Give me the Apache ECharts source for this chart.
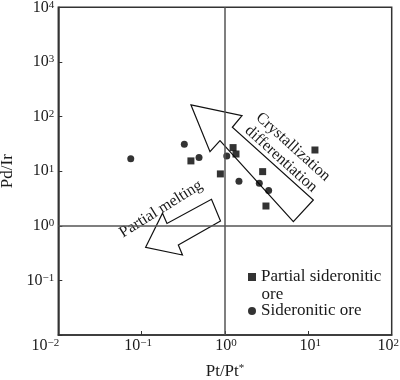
<!DOCTYPE html>
<html>
<head>
<meta charset="utf-8">
<script src="https://cdn.jsdelivr.net/npm/echarts@6/dist/echarts.min.js"></script>
<style>html,body{margin:0;padding:0;background:#fff;}#c{width:400px;height:380px;}</style>
</head>
<body>
<div id="c"></div>
<script>
// ---- data ----
const sideroniticX = [0.074, 0.325, 0.488, 1.05, 1.47, 2.58, 3.34];
const sideroniticY = [16.9, 31, 17.7, 19, 6.5, 6.0, 4.4];
const partialX = [0.39, 0.88, 1.25, 1.355, 2.83, 3.1, 12.0];
const partialY = [15.4, 8.9, 27, 20.6, 9.8, 2.3, 24.4];
const seriesNames = ['Partial sideronitic', 'Sideronitic ore'];
const xName = 'Pt/Pt';
const yName = 'Pd/Ir';
// arrow outlines, as log10(value) pairs
const crystArrow = [[-0.408,2.212],[0.204,2.016],[0.088,1.803],[1.06,0.472],[0.82,0.075],[-0.06,1.558],[-0.18,1.357]];
const meltArrow = [[-0.952,-0.394],[-0.75,0.229],[-0.696,0.042],[-0.162,0.485],[-0.054,0.088],[-0.56,-0.352],[-0.51,-0.535]];
const arrowTexts = ['Crystallization', 'differentiation', 'Partial melting'];
const arrowTextPos = [[0.816,1.443],[0.672,1.223],[-0.768,0.307]];
const arrowTextAngle = [-42, -42, 32];

const FONT = '"Liberation Serif", "Times New Roman", serif';
const TXT = '#1a1a1a';

// horizontal nudges of the x tick labels (left pad / right pad styles)
const xLabelPad = {'-2': ['', 'r26'], '-1': ['', 'r7'], '0': ['l2', ''], '1': ['l4', ''], '2': ['', 'r7']};

function pow10Label(v, isX) {
  const e = Math.round(Math.log10(v));
  const es = (e < 0 ? '\u2212' + (-e) : '' + e);
  if (!isX && e === -2) return '';
  let s = '{b|10}{s|' + es + '}';
  if (isX) {
    const p = xLabelPad[String(e)] || ['', ''];
    if (p[0]) s = '{' + p[0] + '|}' + s;
    if (p[1]) s = s + '{' + p[1] + '|}';
  }
  return s;
}
const richTick = {
  b: {fontSize: 16, fontFamily: FONT, color: TXT},
  s: {fontSize: 11, fontFamily: FONT, color: TXT, verticalAlign: 'top'},
  r26: {width: 26}, r7: {width: 7}, l2: {width: 2}, l4: {width: 4}
};

const chart = echarts.init(document.getElementById('c'));
const arrows = [crystArrow, meltArrow];

chart.setOption({
  animation: false,
  backgroundColor: '#fff',
  grid: {left: 58.3, right: 8.3, top: 7.3, bottom: 45, containLabel: false, outerBoundsMode: 'none',
         show: true, borderColor: '#333', borderWidth: 1.5},
  xAxis: {
    type: 'log', logBase: 10, min: 0.01, max: 100, interval: 1,
    name: '{a|' + xName + '}{s|*}', nameLocation: 'middle', nameGap: 28,
    nameTextStyle: {rich: {a: {fontSize: 17, fontFamily: FONT, color: TXT}, s: {fontSize: 11, fontFamily: FONT, color: TXT, verticalAlign: 'top'}}},
    axisLine: {lineStyle: {color: '#333', width: 1.5}},
    axisTick: {inside: true, length: 4, lineStyle: {color: '#333'}},
    minorTick: {show: false},
    splitLine: {show: false},
    axisLabel: {margin: 3, formatter: v => pow10Label(v, true), rich: richTick}
  },
  yAxis: {
    type: 'log', logBase: 10, min: 0.01, max: 10000, interval: 1,
    name: yName, nameLocation: 'middle', nameGap: 40, nameRotate: 90,
    nameTextStyle: {fontSize: 17, fontFamily: FONT, color: TXT},
    axisLine: {lineStyle: {color: '#333', width: 1.5}},
    axisTick: {inside: true, length: 4, lineStyle: {color: '#333'}},
    minorTick: {show: false},
    splitLine: {show: false},
    axisLabel: {margin: 4, formatter: v => pow10Label(v, false), rich: richTick}
  },
  legend: {
    orient: 'vertical', left: 248, top: 268.5, padding: 0,
    itemWidth: 8, itemHeight: 8, itemGap: 17,
    textStyle: {fontSize: 17, fontFamily: FONT, color: TXT, lineHeight: 17},
    data: [{name: seriesNames[0], icon: 'rect'}, {name: seriesNames[1], icon: 'circle'}]
  },
  graphic: [{
    type: 'text', left: 261.5, top: 286,
    style: {text: 'ore', font: '17px ' + FONT, fill: TXT}
  }],
  series: [
    {
      type: 'custom', name: 'arrows', z: 1, clip: false, silent: true,
      data: [[1, 1], [1, 1]],
      renderItem: function (params, api) {
        const pts = arrows[params.dataIndex].map(p => api.coord([Math.pow(10, p[0]), Math.pow(10, p[1])]));
        return {type: 'polygon', shape: {points: pts}, style: {fill: 'none', stroke: '#111', lineWidth: 1.2}};
      }
    },
    {
      type: 'custom', name: 'arrowText', z: 1, clip: false, silent: true,
      data: [[1, 1], [1, 1], [1, 1]],
      renderItem: function (params, api) {
        const i = params.dataIndex;
        const p = api.coord([Math.pow(10, arrowTextPos[i][0]), Math.pow(10, arrowTextPos[i][1])]);
        return {
          type: 'text', x: p[0], y: p[1], rotation: arrowTextAngle[i] * Math.PI / 180,
          style: {text: arrowTexts[i], font: '16px ' + FONT, fill: TXT, textAlign: 'center', textVerticalAlign: 'middle', align: 'center', verticalAlign: 'middle'}
        };
      }
    },
    {
      type: 'scatter', name: seriesNames[0], symbol: 'rect', symbolSize: 7, z: 3,
      itemStyle: {color: '#000'},
      data: partialX.map((x, i) => [x, partialY[i]]),
      markLine: {
        silent: true, symbol: 'none', label: {show: false},
        lineStyle: {color: '#555', width: 1.5, type: 'solid'},
        data: [{xAxis: 1}, {yAxis: 1}]
      }
    },
    {
      type: 'scatter', name: seriesNames[1], symbol: 'circle', symbolSize: 7, z: 3,
      itemStyle: {color: '#000'},
      data: sideroniticX.map((x, i) => [x, sideroniticY[i]])
    }
  ]
});
</script>
</body>
</html>
